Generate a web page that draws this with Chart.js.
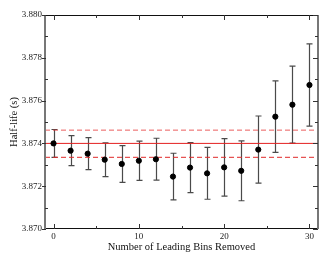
<!DOCTYPE html>
<html>
<head>
<meta charset="utf-8">
<script src="https://cdn.jsdelivr.net/npm/chart.js@4/dist/chart.umd.min.js"></script>
<style>
html,body{margin:0;padding:0;background:#fff;}
#c{display:block;}
</style>
</head>
<body>
<canvas id="c" width="330" height="255"></canvas>
<script>
// ---- data ----
const bins = [0, 2, 4, 6, 8, 10, 12, 14, 16, 18, 20, 22, 24, 26, 28, 30];
const halfLife = [3.87400, 3.87366, 3.87352, 3.87324, 3.87304, 3.87319, 3.87326, 3.87245,
                  3.87287, 3.87260, 3.87288, 3.87272, 3.87371, 3.87525, 3.87581, 3.87673];
const halfLifeErr = [0.00065, 0.00070, 0.00075, 0.00079, 0.00086, 0.00092, 0.00098, 0.00109,
                     0.00117, 0.00121, 0.00134, 0.00140, 0.00157, 0.00167, 0.00180, 0.00192];
const refValue = 3.8740;
const refUpper = 3.87462;
const refLower = 3.87335;
const xRange = [-1, 31];
const yRange = [3.870, 3.880];
const xMajorTicks = [0, 10, 20, 30];
const xMinorTicks = [5, 15, 25];
const yMajorTicks = [3.870, 3.872, 3.874, 3.876, 3.878, 3.880];
const yMinorTicks = [3.871, 3.873, 3.875, 3.877, 3.879];
const xTitle = 'Number of Leading Bins Removed';
const yTitle = 'Half-life (s)';

const points = bins.map((b, i) => ({x: b, y: halfLife[i]}));
const hline = v => [{x: xRange[0], y: v}, {x: xRange[1], y: v}];

const serif = "'Liberation Serif', 'Times New Roman', serif";

const decor = {
  id: 'decor',
  beforeDatasetsDraw(chart) {
    const {ctx, scales: {x, y}} = chart;
    ctx.save();
    ctx.strokeStyle = '#4a4a4a';
    ctx.lineWidth = 1.2;
    bins.forEach((b, i) => {
      const px = Math.round(x.getPixelForValue(b)) + 0.5;
      const top = y.getPixelForValue(halfLife[i] + halfLifeErr[i]);
      const bot = y.getPixelForValue(halfLife[i] - halfLifeErr[i]);
      ctx.beginPath();
      ctx.moveTo(px, top); ctx.lineTo(px, bot);
      ctx.moveTo(px - 3, top); ctx.lineTo(px + 3, top);
      ctx.moveTo(px - 3, bot); ctx.lineTo(px + 3, bot);
      ctx.stroke();
    });
    ctx.restore();
  },
  afterDraw(chart) {
    const {ctx, chartArea: a, scales: {x, y}} = chart;
    ctx.save();
    // frame
    ctx.lineWidth = 1;
    ctx.strokeStyle = '#111';
    ctx.beginPath();
    ctx.moveTo(a.left, a.top + 0.5); ctx.lineTo(a.right, a.top + 0.5);
    ctx.moveTo(a.left, a.bottom - 0.5); ctx.lineTo(a.right, a.bottom - 0.5);
    ctx.stroke();
    ctx.lineWidth = 2;
    ctx.strokeStyle = '#777';
    ctx.beginPath();
    ctx.moveTo(a.left, a.top); ctx.lineTo(a.left, a.bottom);
    ctx.moveTo(a.right, a.top); ctx.lineTo(a.right, a.bottom);
    ctx.stroke();
    // ticks
    ctx.lineWidth = 1;
    ctx.strokeStyle = '#333';
    ctx.beginPath();
    xMajorTicks.forEach(v => {
      const px = Math.round(x.getPixelForValue(v)) + 0.5;
      ctx.moveTo(px, a.bottom); ctx.lineTo(px, a.bottom - 5);
      ctx.moveTo(px, a.top); ctx.lineTo(px, a.top + 5);
    });
    xMinorTicks.forEach(v => {
      const px = Math.round(x.getPixelForValue(v)) + 0.5;
      ctx.moveTo(px, a.bottom); ctx.lineTo(px, a.bottom - 3);
      ctx.moveTo(px, a.top); ctx.lineTo(px, a.top + 3);
    });
    yMajorTicks.forEach(v => {
      const py = Math.round(y.getPixelForValue(v)) + 0.5;
      ctx.moveTo(a.left - 3, py); ctx.lineTo(a.left + 1, py);
      ctx.moveTo(a.right, py); ctx.lineTo(a.right - 5, py);
    });
    yMinorTicks.forEach(v => {
      const py = Math.round(y.getPixelForValue(v)) + 0.5;
      ctx.moveTo(a.left, py); ctx.lineTo(a.left + 3, py);
      ctx.moveTo(a.right, py); ctx.lineTo(a.right - 3, py);
    });
    ctx.stroke();
    ctx.restore();
  }
};

new Chart(document.getElementById('c'), {
  type: 'scatter',
  data: {
    datasets: [
      {
        label: 'Half-life',
        data: points,
        backgroundColor: '#000',
        borderColor: '#000',
        pointRadius: 2.6,
        pointHoverRadius: 2.6,
        order: 0
      },
      {
        type: 'line', label: 'ref', data: hline(refValue),
        borderColor: '#e42020', borderWidth: 1, pointRadius: 0, fill: false, order: 1
      },
      {
        type: 'line', label: 'upper', data: hline(refUpper),
        borderColor: 'rgba(228,40,40,0.75)', borderWidth: 1, borderDash: [5, 3],
        pointRadius: 0, fill: false, order: 1
      },
      {
        type: 'line', label: 'lower', data: hline(refLower),
        borderColor: '#e02828', borderWidth: 1, borderDash: [5, 3],
        pointRadius: 0, fill: false, order: 1
      }
    ]
  },
  options: {
    responsive: false,
    animation: false,
    events: [],
    layout: {padding: {top: 15, right: 12, left: 0, bottom: 0}},
    plugins: {legend: {display: false}, tooltip: {enabled: false}},
    scales: {
      x: {
        type: 'linear',
        min: xRange[0], max: xRange[1],
        afterBuildTicks: s => { s.ticks = xMajorTicks.map(v => ({value: v})); },
        afterFit: s => { s.height = 26; },
        grid: {display: false, drawTicks: false, tickLength: 0},
        border: {display: false},
        ticks: {font: {family: serif, size: 9}, color: '#222', padding: 2, maxRotation: 0},
        title: {display: true, text: xTitle, font: {family: serif, size: 10.5},
                color: '#111', padding: {top: 0, bottom: 1}}
      },
      y: {
        type: 'linear',
        min: yRange[0], max: yRange[1],
        afterBuildTicks: s => { s.ticks = yMajorTicks.map(v => ({value: v})); },
        afterFit: s => { s.width = 45; },
        grid: {display: false, drawTicks: false, tickLength: 0},
        border: {display: false},
        ticks: {font: {family: serif, size: 9}, color: '#222', padding: 3,
                callback: v => Number(v).toFixed(3)},
        title: {display: true, text: yTitle, font: {family: serif, size: 10.5},
                color: '#111', padding: {top: 8, bottom: 0}}
      }
    }
  },
  plugins: [decor]
});
</script>
</body>
</html>
